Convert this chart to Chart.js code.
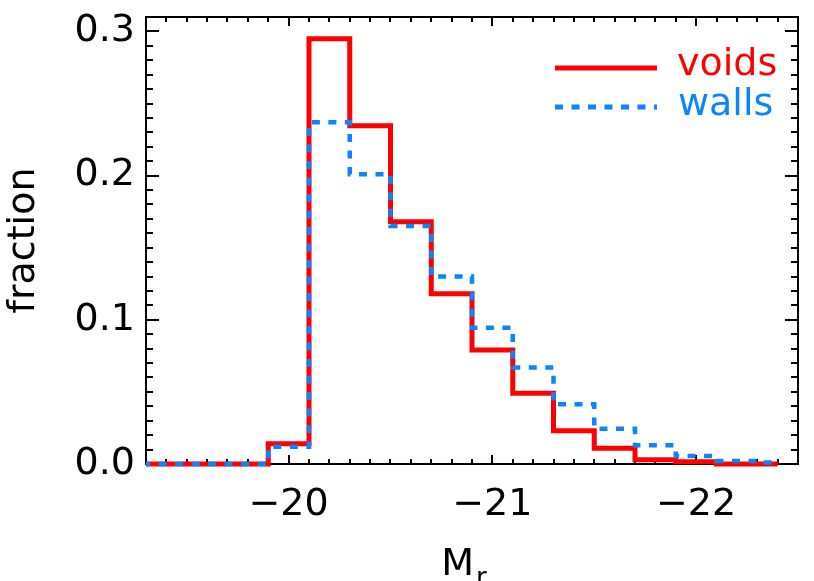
<!DOCTYPE html>
<html><head><meta charset="utf-8">
<script src="https://cdn.jsdelivr.net/npm/chart.js@4.4.1/dist/chart.umd.min.js"></script>
<style>html,body{margin:0;padding:0;background:#fff;} #c{display:block;}</style>
</head><body>
<canvas id="c" width="814" height="581"></canvas>
<script>
// ---- data ----
const binCenters = [-19.2,-19.4,-19.6,-19.8,-20.0,-20.2,-20.4,-20.6,-20.8,-21.0,-21.2,-21.4,-21.6,-21.8,-22.0,-22.2,-22.4];
const voidsFraction = [0,0,0,0,0.014,0.295,0.2345,0.168,0.118,0.079,0.049,0.023,0.011,0.003,0.0015,0,0];
const wallsFraction = [0,0,0,0,0.012,0.237,0.201,0.165,0.130,0.0945,0.067,0.0415,0.0245,0.013,0.0055,0.002,0.001];
const xTickValues = [-20,-21,-22];
const yTickValues = [0,0.1,0.2,0.3];
const seriesNames = ['voids','walls'];
const xTitle = 'M';
const xTitleSub = 'r';
const yTitle = 'fraction';

const RED = '#ff0000';
const BLUE = '#0a84ff';
const FONT = '"DejaVu Sans", sans-serif';

const pts = (ys) => binCenters.map((x,i)=>({x:x,y:ys[i]}));

const framePlugin = {
  id:'frame',
  beforeDatasetsDraw(chart){
    const {ctx, chartArea:a, scales:{x, y}} = chart;
    ctx.save();
    ctx.strokeStyle='#000'; ctx.lineWidth=2;
    ctx.strokeRect(a.left, a.top, a.right-a.left, a.bottom-a.top);
    ctx.lineWidth=2;
    ctx.beginPath();
    for(let k=-225;k<=-193;k++){
      const v=k/10; const px=Math.round(x.getPixelForValue(v));
      if(px<a.left+1||px>a.right-1) continue;
      const L=(k%10===0)?9:5;
      ctx.moveTo(px,a.bottom); ctx.lineTo(px,a.bottom-L);
      ctx.moveTo(px,a.top); ctx.lineTo(px,a.top+L);
    }
    for(let k=0;k<=31;k++){
      const v=k/100; const py=Math.round(y.getPixelForValue(v));
      if(py<a.top+1||py>a.bottom-1) continue;
      const L=(k%10===0)?13:7;
      ctx.moveTo(a.left,py); ctx.lineTo(a.left+L,py);
      ctx.moveTo(a.right,py); ctx.lineTo(a.right-L,py);
    }
    ctx.stroke();
    ctx.restore();
  },
  afterDraw(chart){
    const {ctx, chartArea:a} = chart;
    ctx.save();
    // axis titles
    ctx.fillStyle='#000';
    ctx.font='38px '+FONT;
    ctx.textBaseline='alphabetic';
    ctx.textAlign='left';
    const mw = ctx.measureText(xTitle).width;
    ctx.font='26px '+FONT;
    const rw = ctx.measureText(xTitleSub).width;
    const cx = (a.left+a.right)/2 - 8;
    const x0 = cx - (mw+rw+2)/2;
    ctx.font='38px '+FONT;
    ctx.fillText(xTitle, x0, 575);
    ctx.font='26px '+FONT;
    ctx.fillText(xTitleSub, x0+mw+2, 586);
    ctx.save();
    ctx.translate(34,(a.top+a.bottom)/2);
    ctx.rotate(-Math.PI/2);
    ctx.font='38px '+FONT;
    ctx.textAlign='center';
    ctx.fillText(yTitle,0,0);
    ctx.restore();
    // legend
    ctx.lineWidth=5;
    ctx.strokeStyle=RED;
    ctx.beginPath(); ctx.moveTo(555,68); ctx.lineTo(657,68); ctx.stroke();
    ctx.strokeStyle=BLUE;
    ctx.setLineDash([8,8.5]);
    ctx.beginPath(); ctx.moveTo(555,107); ctx.lineTo(657,107); ctx.stroke();
    ctx.setLineDash([]);
    ctx.font='38px '+FONT;
    ctx.textAlign='left';
    ctx.fillStyle=RED; ctx.fillText(seriesNames[0],677,75);
    ctx.fillStyle=BLUE; ctx.fillText(seriesNames[1],678,115);
    ctx.restore();
  }
};

new Chart(document.getElementById('c'),{
  type:'line',
  data:{datasets:[
    {label:seriesNames[1], data:pts(wallsFraction), stepped:'middle', borderColor:BLUE, borderWidth:4.5, borderDash:[8,8.5], pointRadius:0, fill:false, order:0, clip:{left:0,top:0,right:0,bottom:6}},
    {label:seriesNames[0], data:pts(voidsFraction), stepped:'middle', borderColor:RED, borderWidth:5, pointRadius:0, fill:false, order:1, clip:{left:0,top:0,right:0,bottom:6}}
  ]},
  options:{
    responsive:false, animation:false, devicePixelRatio:1,
    layout:{padding:{left:0,top:17,right:16,bottom:0}},
    plugins:{legend:{display:false}, tooltip:{enabled:false}},
    scales:{
      x:{type:'linear', reverse:true, min:-22.5, max:-19.3,
        afterBuildTicks:(s)=>{s.ticks=xTickValues.map(v=>({value:v}));},
        afterFit:(s)=>{s.height=581-464; s.paddingLeft=0; s.paddingRight=0;},
        grid:{display:false, drawTicks:false}, border:{display:false},
        ticks:{color:'#000', font:{family:'DejaVu Sans', size:38}, padding:18, maxRotation:0, autoSkip:false,
          callback:(v)=>'\u2212'+Math.abs(v).toFixed(0)}
      },
      y:{type:'linear', min:0, max:0.31,
        afterBuildTicks:(s)=>{s.ticks=yTickValues.map(v=>({value:v}));},
        afterFit:(s)=>{s.width=146; s.paddingTop=0; s.paddingBottom=0;},
        grid:{display:false, drawTicks:false}, border:{display:false},
        ticks:{color:'#000', font:{family:'DejaVu Sans', size:38}, padding:11, autoSkip:false,
          callback:(v)=>Number(v).toFixed(1)}
      }
    }
  },
  plugins:[framePlugin]
});
</script>
</body></html>
